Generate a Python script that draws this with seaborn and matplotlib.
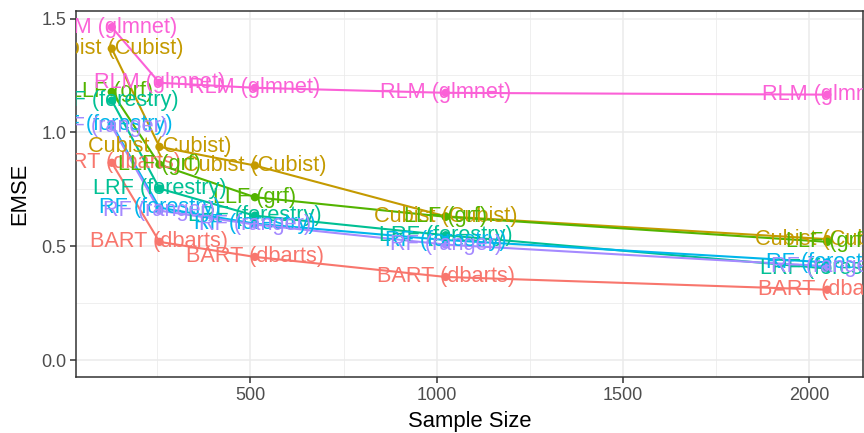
import matplotlib
matplotlib.use("Agg")
import matplotlib.pyplot as plt
import seaborn as sns
import pandas as pd
from matplotlib.ticker import MultipleLocator

sample_sizes = [128, 256, 512, 1024, 2048]
estimators = ["BART (dbarts)", "Cubist (Cubist)", "LLF (grf)", "LRF (forestry)",
              "RF (forestry)", "RF (ranger)", "RLM (glmnet)"]
emse_bart = [0.867, 0.520, 0.454, 0.366, 0.310]
emse_cubist = [1.368, 0.937, 0.855, 0.632, 0.532]
emse_llf = [1.178, 0.859, 0.716, 0.630, 0.520]
emse_lrf = [1.140, 0.754, 0.635, 0.549, 0.403]
emse_rf_forestry = [1.035, 0.670, 0.600, 0.528, 0.430]
emse_rf_ranger = [1.027, 0.657, 0.596, 0.508, 0.413]
emse_rlm = [1.462, 1.218, 1.196, 1.174, 1.166]
colors = ["#F8766D", "#C49A00", "#53B400", "#00C094", "#00B6EB", "#A58AFF", "#FB61D7"]

series = [emse_bart, emse_cubist, emse_llf, emse_lrf, emse_rf_forestry, emse_rf_ranger, emse_rlm]
rows = []
for name, vals in zip(estimators, series):
    for n, v in zip(sample_sizes, vals):
        rows.append({"Sample Size": n, "EMSE": v, "Estimator": name})
df = pd.DataFrame(rows)

sns.set_style("white")
plt.rcParams["font.family"] = ["Liberation Sans", "DejaVu Sans"]

fig = plt.figure(figsize=(8.64, 4.33), dpi=100)
ax = fig.add_axes([76 / 864, 1 - 377 / 433, 787 / 864, 366 / 433])

palette = dict(zip(estimators, colors))
sns.lineplot(data=df, x="Sample Size", y="EMSE", hue="Estimator", palette=palette,
             linewidth=1.5, legend=False, ax=ax, zorder=3)
sns.scatterplot(data=df, x="Sample Size", y="EMSE", hue="Estimator", palette=palette,
                s=36, linewidth=0, legend=False, ax=ax, zorder=4)

for _, r in df.iterrows():
    ax.text(r["Sample Size"], r["EMSE"], r["Estimator"], color=palette[r["Estimator"]],
            fontsize=15.7, ha="center", va="center", clip_on=True, zorder=5)

span_x = 2048 - 128
ax.set_xlim(128 - 0.05 * span_x, 2048 + 0.05 * span_x)
ax.set_ylim(-0.073, 1.533)
ax.xaxis.set_major_locator(MultipleLocator(500))
ax.xaxis.set_minor_locator(MultipleLocator(250))
ax.yaxis.set_major_locator(MultipleLocator(0.5))
ax.yaxis.set_minor_locator(MultipleLocator(0.25))
ax.yaxis.set_major_formatter(matplotlib.ticker.FormatStrFormatter("%.1f"))
ax.grid(which="major", color="#EBEBEB", linewidth=1.1, zorder=0)
ax.grid(which="minor", color="#EBEBEB", linewidth=0.55, zorder=0)
ax.set_axisbelow(True)
for s in ax.spines.values():
    s.set_color("#333333")
    s.set_linewidth(1.1)
ax.tick_params(which="major", length=4, width=1.1, color="#333333",
               labelcolor="#4D4D4D", labelsize=13, pad=3,
               bottom=True, left=True)
ax.tick_params(which="minor", length=0)
ax.set_xlabel("Sample Size", fontsize=15.8, color="black", labelpad=5)
ax.set_ylabel("EMSE", fontsize=15.8, color="black", labelpad=8)

fig.savefig("out.png", dpi=100)
